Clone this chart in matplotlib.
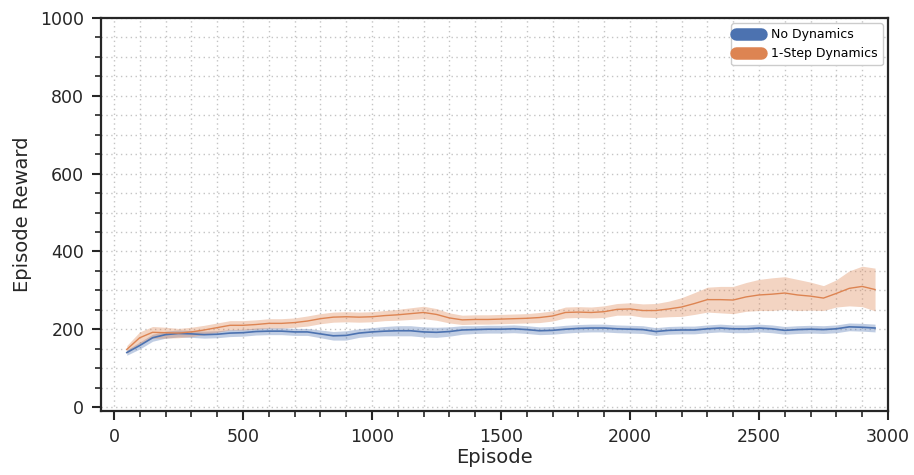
import numpy as np
import matplotlib
matplotlib.use("Agg")
import matplotlib.pyplot as plt
from matplotlib.ticker import MultipleLocator
from matplotlib.lines import Line2D

episodes = [50, 100, 150, 200, 250, 300, 350, 400, 450, 500, 550, 600, 650, 700, 750,
            800, 850, 900, 950, 1000, 1050, 1100, 1150, 1200, 1250, 1300, 1350, 1400,
            1450, 1500, 1550, 1600, 1650, 1700, 1750, 1800, 1850, 1900, 1950, 2000,
            2050, 2100, 2150, 2200, 2250, 2300, 2350, 2400, 2450, 2500, 2550, 2600,
            2650, 2700, 2750, 2800, 2850, 2900, 2950]

no_dyn_mean = [140, 158, 178, 186, 189, 188, 186, 187, 190, 191, 194, 195, 195, 193, 193,
               188, 183, 184, 190, 193, 195, 196, 196, 193, 192, 194, 198, 199,
               200, 200, 201, 199, 196, 197, 200, 202, 203, 203, 201, 200,
               199, 194, 197, 198, 198, 201, 203, 201, 201, 203, 201, 197,
               199, 200, 199, 201, 206, 205, 203]
no_dyn_half = [7, 9, 9, 9, 9, 9, 9, 9, 9, 9, 9, 9, 9, 9, 9,
               10, 11, 12, 11, 11, 12, 13, 13, 13, 13, 12, 11, 10,
               10, 10, 10, 10, 10, 10, 10, 10, 10, 10, 10, 10,
               10, 10, 10, 10, 10, 10, 10, 10, 10, 10, 10, 10,
               10, 10, 10, 10, 10, 10, 10]

step1_mean = [148, 178, 192, 191, 190, 193, 198, 204, 210, 210, 212, 215, 215, 217, 221,
              227, 231, 232, 231, 232, 235, 237, 240, 243, 238, 229, 224, 225,
              225, 226, 227, 228, 230, 234, 243, 244, 243, 245, 251, 252,
              248, 248, 252, 257, 266, 276, 276, 275, 283, 288, 290, 293,
              288, 285, 280, 292, 305, 310, 302]
step1_half = [10, 15, 15, 14, 12, 12, 12, 12, 12, 12, 12, 12, 12, 12, 13,
              13, 13, 13, 13, 13, 13, 14, 15, 16, 15, 13, 12, 12,
              12, 12, 12, 12, 13, 13, 14, 14, 14, 15, 15, 16,
              17, 18, 20, 24, 28, 32, 34, 35, 37, 40, 42, 42,
              40, 36, 32, 35, 45, 52, 55]

labels = ["No Dynamics", "1-Step Dynamics"]
colors = ["#4C72B0", "#DD8452"]

plt.rcParams['font.family'] = ['DejaVu Sans']
fig = plt.figure(figsize=(9.14, 4.75), dpi=100)
ax = fig.add_axes([0.1105, 0.135, 0.861, 0.827])

x = np.array(episodes)
for mean, half, c, lw in [(no_dyn_mean, no_dyn_half, colors[0], 1.2),
                          (step1_mean, step1_half, colors[1], 1.0)]:
    m = np.array(mean, float)
    h = np.array(half, float)
    ax.fill_between(x, m - h, m + h, color=c, alpha=0.35, lw=0)
    ax.plot(x, m, color=c, lw=lw)

ax.set_xlim(-50, 3000)
ax.set_ylim(-10, 1000)
ax.xaxis.set_major_locator(MultipleLocator(500))
ax.xaxis.set_minor_locator(MultipleLocator(100))
ax.yaxis.set_major_locator(MultipleLocator(200))
ax.yaxis.set_minor_locator(MultipleLocator(50))
ax.grid(True, which='both', linestyle=(0, (1, 2.5)), color='#c4c4c4', linewidth=1.0)
ax.set_axisbelow(True)

for s in ax.spines.values():
    s.set_linewidth(1.6)
    s.set_color('#262626')
ax.tick_params(which='major', length=6.5, width=1.5, color='#262626', pad=5.5,
               labelsize=12.5, labelcolor='#262626')
ax.tick_params(which='minor', length=4, width=1.2, color='#262626')

ax.set_xlabel("Episode", fontsize=14, color='#262626', labelpad=2)
ax.set_ylabel("Episode Reward", fontsize=14, color='#262626', labelpad=6)

handles = [Line2D([0], [0], color=c, lw=9, solid_capstyle='round') for c in colors]
ax.legend(handles, labels, loc='upper right', fontsize=9, framealpha=1,
          borderaxespad=0.4)

fig.savefig("out.png", dpi=100)
